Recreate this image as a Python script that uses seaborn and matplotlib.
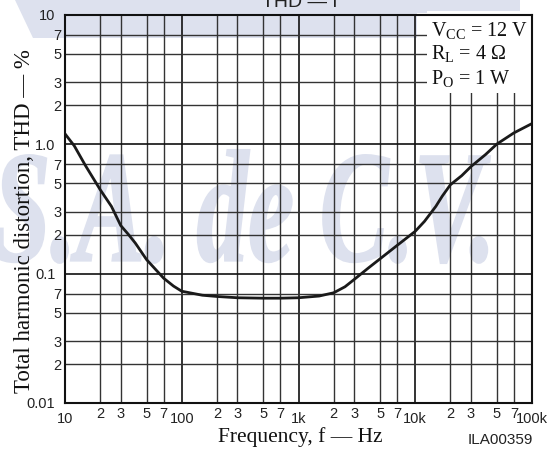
import numpy as np
import pandas as pd
import seaborn as sns
import matplotlib.pyplot as plt
from matplotlib.ticker import FixedLocator, FixedFormatter
from matplotlib.textpath import TextPath
from matplotlib.patches import PathPatch, Polygon, Rectangle
from matplotlib.font_manager import FontProperties
from matplotlib.transforms import Affine2D

# values
freq = [10, 12, 15, 20, 25, 30, 35, 40, 50, 60, 70, 85, 100, 150, 200, 300,
        500, 700, 1000, 1500, 2000, 2500, 3000, 4000, 5000, 7000, 10000,
        12000, 15000, 17000, 20000, 25000, 30000, 40000, 50000, 70000, 100000]
thd = [1.2, 0.97, 0.68, 0.445, 0.33, 0.235, 0.2, 0.172, 0.128, 0.107, 0.092,
       0.080, 0.073, 0.068, 0.0665, 0.065, 0.0645, 0.0645, 0.065, 0.067,
       0.071, 0.079, 0.090, 0.111, 0.13, 0.165, 0.212, 0.253, 0.33, 0.395,
       0.485, 0.57, 0.67, 0.83, 1.0, 1.22, 1.44]

x_major = [10, 100, 1000, 10000, 100000]
x_major_labels = ['10', '100', '1k', '10k', '100k']
x_minor = [m * d for d in [10, 100, 1000, 10000] for m in [2, 3, 5, 7]]
x_minor_labels = ['2', '3', '5', '7'] * 4

y_major = [0.01, 0.1, 1, 10]
y_major_labels = ['0.01', '0.1', '1.0', '10']
y_minor = [m * d for d in [0.01, 0.1, 1] for m in [2, 3, 5, 7]]
y_minor_labels = ['2', '3', '5', '7'] * 3

conditions = [r'V$_\mathregular{CC}$ = 12 V', r'R$_\mathregular{L}$ = 4 Ω',
              r'P$_\mathregular{O}$ = 1 W']

df = pd.DataFrame({'freq': freq, 'thd': thd})

sns.set_style('white')
plt.rcParams['font.family'] = ['Liberation Serif', 'DejaVu Serif']
plt.rcParams['mathtext.default'] = 'regular'

W, H = 557, 453
fig = plt.figure(figsize=(W / 100, H / 100), dpi=100)
ax = fig.add_axes([65 / W, 1 - 403 / H, 467 / W, 388.4 / H])
ax.patch.set_facecolor('none')

wm_color = '#dde1ee'

# top band and watermark behind the axes
band = Polygon([(15 / W, 1), (520 / W, 1), (520 / W, 1 - 13 / H), (417 / W, 1 - 13 / H),
                (417 / W, 1 - 38 / H), (33 / W, 1 - 38 / H)],
               closed=True, transform=fig.transFigure, facecolor=wm_color,
               edgecolor='none', zorder=-2)
fig.add_artist(band)

tp = TextPath((0, 0), 'S.A. de C.V.', size=1,
              prop=FontProperties(family='Liberation Serif', weight='bold', style='italic'))
bb = tp.get_extents()
x0, x1 = -5, 490
y_top, y_bot = 150, 263
sx = (x1 - x0) / W / bb.width
sy = (y_bot - y_top) / H / bb.height
tr = Affine2D().translate(-bb.x0, -bb.y0).scale(sx, sy).translate(x0 / W, 1 - y_bot / H)
wm = PathPatch(tp, transform=tr + fig.transFigure, facecolor=wm_color,
               edgecolor=wm_color, lw=1.5, zorder=-1)
fig.add_artist(wm)

fig.text(300 / W, 1 - 7 / H, 'THD — f', ha='center', va='baseline',
         family='Liberation Sans', fontsize=14, color='#222222')

sns.lineplot(data=df, x='freq', y='thd', ax=ax, color='#1a1a1a', lw=2.0, zorder=4)

ax.set_xscale('log')
ax.set_yscale('log')
ax.set_xlim(10, 100000)
ax.set_ylim(0.01, 10)

ax.xaxis.set_major_locator(FixedLocator(x_major))
ax.xaxis.set_major_formatter(FixedFormatter(x_major_labels))
ax.xaxis.set_minor_locator(FixedLocator(x_minor))
ax.xaxis.set_minor_formatter(FixedFormatter(x_minor_labels))
ax.yaxis.set_major_locator(FixedLocator(y_major))
ax.yaxis.set_major_formatter(FixedFormatter(y_major_labels))
ax.yaxis.set_minor_locator(FixedLocator(y_minor))
ax.yaxis.set_minor_formatter(FixedFormatter(y_minor_labels))

ax.tick_params(which='both', length=0, labelsize=10.5, colors='#222222')
ax.tick_params(axis='x', which='major', pad=6.5)
ax.tick_params(axis='x', which='minor', pad=3)
ax.tick_params(axis='y', which='major', pad=7)
ax.tick_params(axis='y', which='minor', pad=2.5)
for lab in ax.get_xticklabels(which='both') + ax.get_yticklabels(which='both'):
    lab.set_family('Liberation Sans')

ax.grid(which='major', color='#111111', lw=1.2)
ax.grid(which='minor', color='#333333', lw=1.0)
for s in ax.spines.values():
    s.set_color('#111111')
    s.set_linewidth(1.5)
    s.set_zorder(5)

# condition box in the top-right corner
ax.add_patch(Rectangle((0.775, 0.798), 0.23, 0.21, transform=ax.transAxes,
                       facecolor='white', edgecolor='none', zorder=3, clip_on=False))
for txt, yy in zip(conditions, [0.945, 0.885, 0.822]):
    ax.text(0.783, yy, txt, transform=ax.transAxes, fontsize=14.5, va='baseline',
            ha='left', color='#111111', zorder=6)

ax.set_xlabel('Frequency, f — Hz', fontsize=15.5, color='#111111')
ax.xaxis.set_label_coords(0.503, -0.062)
ax.set_ylabel('Total harmonic distortion, THD — %', fontsize=16.5, color='#111111')
ax.yaxis.set_label_coords(-0.064, 0.469)
fig.text(500 / W, 1 - 440 / H, 'ILA00359', ha='center', va='center',
         family='Liberation Sans', fontsize=11, color='#222222')

fig.savefig('out.png', dpi=100)
